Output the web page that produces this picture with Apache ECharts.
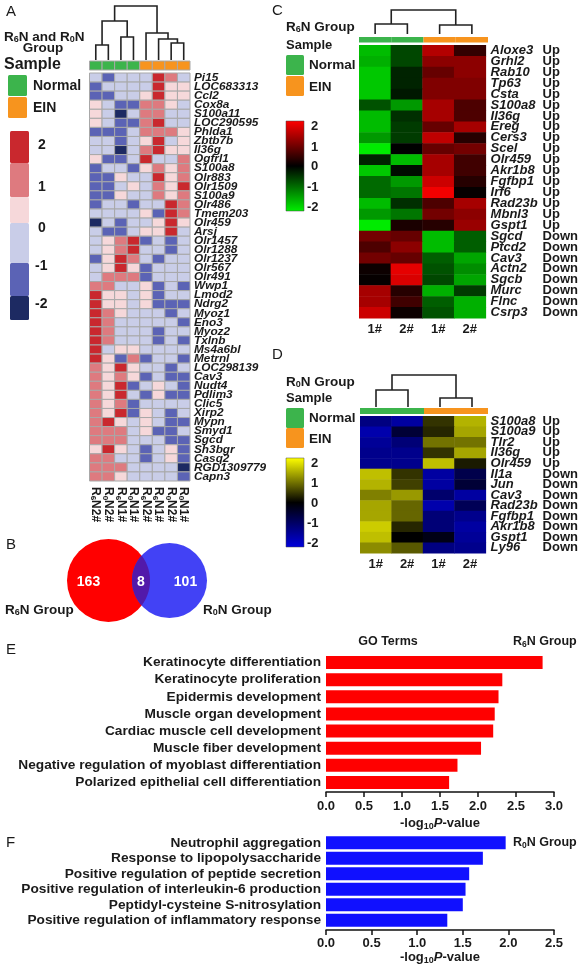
<!DOCTYPE html>
<html><head><meta charset="utf-8">
<style>html,body{margin:0;padding:0;background:#fff}#c{width:581px;height:966px}</style>
<script src="https://cdn.jsdelivr.net/npm/echarts@6/dist/echarts.min.js"></script>
</head><body><div id="c"></div>
<script>
// ---------------- DATA ----------------
// Panel A
const sampleA = ['R6N2#','R0N2#','R6N1#','R0N1#','R6N2#','R6N1#','R0N2#','R0N1#'];
const groupA = ['Normal','Normal','Normal','Normal','EIN','EIN','EIN','EIN'];
const genesA = ['Pi15','LOC683313','Ccl2','Cox8a','S100a11','LOC290595','Phlda1','Zbtb7b','Il36g','Ogfrl1','S100a8','Olr883','Olr1509','S100a9','Olr486','Tmem203','Olr459','Arsj','Olr1457','Olr1288','Olr1237','Olr567','Olr491','Wwp1','Lmod2','Ndrg2','Myoz1','Eno3','Myoz2','Txlnb','Ms4a6bl','Metrnl','LOC298139','Cav3','Nudt4','Pdlim3','Clic5','Xirp2','Mypn','Smyd1','Sgcd','Sh3bgr','Casq2','RGD1309779','Capn3'];
const heatA = [
 [-0.4,-1.2,-0.4,-0.4,-0.4,2,1.2,-0.4],
 [-1.2,-0.4,-0.4,-0.4,-0.4,2,0.4,0.4],
 [-1.2,-1.2,-0.4,-0.4,0.4,2,0.4,0.4],
 [0.4,-0.4,-1.2,-1.2,1.2,1.2,0.4,-0.4],
 [0.4,-0.4,-2,-0.4,1.2,1.2,-0.4,-0.4],
 [0.4,-0.4,-1.2,-1.2,1.2,2,-0.4,-0.4],
 [-1.2,-1.2,-1.2,-0.4,1.2,1.2,1.2,0.4],
 [-0.4,-0.4,-1.2,-0.4,0.4,2,-0.4,0.4],
 [-0.4,-0.4,-2,-0.4,1.2,2,0.4,0.4],
 [0.4,-1.2,-1.2,-0.4,2,-0.4,-0.4,1.2],
 [-1.2,-0.4,-0.4,-1.2,0.4,1.2,0.4,1.2],
 [-1.2,-1.2,0.4,-0.4,-0.4,2,0.4,1.2],
 [-1.2,-1.2,-0.4,0.4,-0.4,1.2,0.4,2],
 [-1.2,-1.2,0.4,-0.4,-0.4,1.2,0.4,1.2],
 [-1.2,-0.4,-0.4,-1.2,-0.4,-0.4,2,1.2],
 [-0.4,-0.4,-0.4,-0.4,0.4,-1.2,2,1.2],
 [-2,-0.4,-1.2,-0.4,-0.4,0.4,2,0.4],
 [-0.4,-1.2,-1.2,-0.4,0.4,0.4,2,-0.4],
 [-0.4,0.4,1.2,2,-1.2,-0.4,-1.2,-0.4],
 [-0.4,0.4,1.2,2,-0.4,-0.4,-1.2,-0.4],
 [-1.2,0.4,2,1.2,-0.4,-1.2,-0.4,-0.4],
 [-0.4,0.4,2,0.4,-1.2,-0.4,-0.4,-0.4],
 [-0.4,1.2,1.2,1.2,-1.2,-0.4,-0.4,-0.4],
 [1.2,1.2,-0.4,-0.4,0.4,-1.2,-0.4,-1.2],
 [2,0.4,0.4,-0.4,0.4,-1.2,-0.4,-0.4],
 [2,0.4,0.4,-0.4,0.4,-1.2,-1.2,-1.2],
 [2,1.2,0.4,-0.4,-0.4,-0.4,-1.2,-0.4],
 [2,1.2,-0.4,-0.4,-0.4,-0.4,-0.4,-1.2],
 [2,1.2,-0.4,-0.4,-0.4,-1.2,-0.4,-0.4],
 [2,1.2,-0.4,-0.4,-0.4,-1.2,-0.4,-1.2],
 [2,-0.4,0.4,0.4,-0.4,-0.4,-0.4,-0.4],
 [2,0.4,-1.2,1.2,-1.2,-0.4,-0.4,-1.2],
 [1.2,0.4,2,0.4,-0.4,-0.4,-1.2,-0.4],
 [1.2,0.4,1.2,0.4,-1.2,-0.4,-1.2,-1.2],
 [1.2,0.4,2,-1.2,-0.4,0.4,-0.4,-1.2],
 [1.2,0.4,2,-0.4,-1.2,0.4,-1.2,-1.2],
 [1.2,0.4,1.2,-1.2,-0.4,-0.4,-0.4,-0.4],
 [1.2,0.4,2,-1.2,0.4,-0.4,-1.2,-0.4],
 [1.2,2,0.4,-0.4,0.4,-0.4,-1.2,-1.2],
 [1.2,1.2,1.2,-0.4,0.4,-1.2,-1.2,-0.4],
 [1.2,1.2,1.2,-0.4,-0.4,-0.4,-1.2,-1.2],
 [0.4,2,0.4,-0.4,-1.2,-0.4,0.4,-1.2],
 [1.2,1.2,-0.4,-0.4,-1.2,-0.4,0.4,-1.2],
 [1.2,1.2,1.2,-0.4,-0.4,-0.4,-0.4,-2],
 [1.2,1.2,0.4,-0.4,-0.4,-0.4,-0.4,-1.2]
];
// dendrogram links: [xLeft, hLeft, xRight, hRight, hMerge]
const dendroA = [[0,0,1,0,15],[2,0,3,0,23],[0.5,15,2.5,23,39],[6,0,7,0,17],[5,0,6.5,17,21],[4,0,5.75,21,27],[1.5,39,4.875,27,54]];
const scaleA = ['2','1','0','-1','-2'];

// Panel B
const vennR6NOnly = 163, vennShared = 8, vennR0NOnly = 101;
const vennNames = ['R6N Group','R0N Group'];

// Panel C
const sampleC = ['1#','2#','1#','2#'];
const groupC = ['Normal','Normal','EIN','EIN'];
const genesC = ['Aloxe3','Grhl2','Rab10','Tp63','Csta','S100a8','Il36g','Ereg','Cers3','Scel','Olr459','Akr1b8','Fgfbp1','Irf6','Rad23b','Mbnl3','Gspt1','Sgcd','Ptcd2','Cav3','Actn2','Sgcb','Murc','Flnc','Csrp3'];
const regC = ['Up','Up','Up','Up','Up','Up','Up','Up','Up','Up','Up','Up','Up','Up','Up','Up','Up','Down','Down','Down','Down','Down','Down','Down','Down'];
const heatC = [
 [-1.6,-0.6,1.4,0.4],[-1.5,-0.6,1.1,1.1],[-1.7,-0.3,0.8,1.1],[-1.7,-0.3,1.0,1.0],[-1.7,-0.2,1.0,1.0],
 [-0.7,-1.3,1.3,0.6],[-1.6,-0.4,1.3,0.6],[-1.6,-0.5,0.8,1.3],[-1.3,-0.5,1.5,0.3],[-2,0,0.8,0.9],
 [-0.3,-1.6,1.3,0.5],[-1.7,-0.1,1.3,0.5],[-0.9,-1.3,1.6,0.3],[-0.9,-1.0,1.9,0.05],[-1.6,-0.4,0.6,1.3],
 [-1.3,-1.0,0.9,1.1],[-2,0.2,0.3,1.2],
 [0.9,0.8,-1.6,-0.8],[0.6,1.1,-1.6,-0.8],[0.9,0.8,-0.8,-1.4],[0.1,1.8,-0.7,-1.2],[0.05,1.7,-0.6,-1.4],
 [1.3,0.3,-1.5,-0.5],[1.3,0.5,-0.8,-1.5],[1.6,0.1,-0.7,-1.5]
];
const dendroC = [[0,0,1,0,10],[2,0,3,0,9],[0.5,10,2.5,9,24]];
const scaleC = ['2','1','0','-1','-2'];

// Panel D
const sampleD = ['1#','2#','1#','2#'];
const groupD = ['Normal','Normal','EIN','EIN'];
const genesD = ['S100a8','S100a9','Tlr2','Il36g','Olr459','Il1a','Jun','Cav3','Rad23b','Fgfbp1','Akr1b8','Gspt1','Ly96'];
const regD = ['Up','Up','Up','Up','Up','Down','Down','Down','Down','Down','Down','Down','Down'];
const heatD = [
 [-1.2,-1.5,0.4,1.4],[-1.6,-0.5,0.3,1.3],[-1.4,-1.1,0.9,0.9],[-1.3,-1.3,0.4,1.3],[-1.3,-1.3,1.5,0.2],
 [1.5,0.4,-1.5,-0.7],[1.4,0.5,-1.5,-0.5],[1.0,1.2,-1.0,-1.5],[1.3,0.8,-1.6,-0.8],[1.3,0.8,-1.1,-1.3],
 [1.6,0.3,-1.1,-1.5],[1.5,0.0,-0.2,-1.4],[1.1,0.7,-1.2,-1.3]
];
const dendroD = [[0,0,1,0,17],[2,0,3,0,9],[0.5,17,2.5,9,32]];
const scaleD = ['2','1','0','-1','-2'];

// Panel E / F
const termsE = ['Keratinocyte differentiation','Keratinocyte proliferation','Epidermis development','Muscle organ development','Cardiac muscle cell development','Muscle fiber development','Negative regulation of myoblast differentiation','Polarized epithelial cell differentiation'];
const valuesE = [2.85,2.32,2.27,2.22,2.20,2.04,1.73,1.62];
const termsF = ['Neutrophil aggregation','Response to lipopolysaccharide','Positive regulation of peptide secretion','Positive regulation of interleukin-6 production','Peptidyl-cysteine S-nitrosylation','Positive regulation of inflammatory response'];
const valuesF = [1.97,1.72,1.57,1.53,1.50,1.33];

// ---------------- STYLE ----------------
const FONT = "'Liberation Sans', Arial, Helvetica, sans-serif";
const TXT = '#1a1a1a';
const GREEN = '#3cb44c', ORANGE = '#f7941e';
function colA(v){
  if (v <= -1.6) return '#1d2a62';
  if (v <= -0.8) return '#5b63b5';
  if (v < 0) return '#c9cde8';
  if (v < 0.8) return '#f6d8da';
  if (v < 1.6) return '#de7a7f';
  return '#c9282e';
}
function rgb(r,g,b){return 'rgb('+Math.round(r)+','+Math.round(g)+','+Math.round(b)+')';}
function colC(v){const t=Math.min(Math.abs(v)/2,1);return v>=0?rgb(255*t,0,0):rgb(0,235*t,0);}
function colD(v){const t=Math.min(Math.abs(v)/2,1);return v>=0?rgb(255*t,255*t,0):rgb(0,0,215*t);}

function richStr(str, m, s){
  let out='', buf='';
  for (let i=0;i<str.length;i++){
    const c=str[i];
    if (/\d/.test(c) && str[i-1]==='R'){ if(buf) out+='{'+m+'|'+buf+'}'; buf=''; out+='{'+s+'|'+c+'}'; }
    else buf+=c;
  }
  if (buf) out+='{'+m+'|'+buf+'}';
  return out;
}

const grids=[], xAxes=[], yAxes=[], series=[];
function addGrid(g){grids.push(Object.assign({containLabel:false},g));return grids.length-1;}

function dendro(gridRect, n, hMax, links){
  const gi = addGrid(gridRect);
  xAxes.push({gridIndex:gi,type:'value',min:-0.5,max:n-0.5,show:false});
  yAxes.push({gridIndex:gi,type:'value',min:0,max:hMax,show:false});
  series.push({type:'custom',xAxisIndex:xAxes.length-1,yAxisIndex:yAxes.length-1,data:links,silent:true,
    renderItem:(p,api)=>{
      const x1=api.value(0),h1=api.value(1),x2=api.value(2),h2=api.value(3),hm=api.value(4);
      return {type:'polyline',shape:{points:[api.coord([x1,h1]),api.coord([x1,hm]),api.coord([x2,hm]),api.coord([x2,h2])]},
        style:{stroke:'#222',lineWidth:1.6,fill:null}};
    }});
}
function strip(gridRect, groups, bordered){
  const gi = addGrid(gridRect);
  xAxes.push({gridIndex:gi,type:'category',data:groups.map((g,i)=>i),show:false});
  yAxes.push({gridIndex:gi,type:'category',data:['g'],show:false});
  series.push({type:'custom',xAxisIndex:xAxes.length-1,yAxisIndex:yAxes.length-1,silent:true,
    data:groups.map((g,i)=>[i,0,g==='Normal'?0:1]),
    renderItem:(p,api)=>{
      const c=api.coord([api.value(0),0]), s=api.size([1,1]);
      return {type:'rect',shape:{x:c[0]-s[0]/2,y:c[1]-s[1]/2,width:s[0],height:s[1]},
        style:{fill:api.value(2)===0?GREEN:ORANGE,stroke:bordered?'#a8a8a8':null,lineWidth:bordered?1:0}};
    }});
}
const axisRich = {
  m:{fontFamily:FONT,fontSize:12,fontWeight:'bold',color:TXT},
  s:{fontFamily:FONT,fontSize:8,fontWeight:'bold',color:TXT,padding:[6,0,0,0]}
};

// ---------- Panel A ----------
dendro({left:89.5,top:6,width:100.5,height:54},8,54,dendroA);
strip({left:89.5,top:61,width:100.5,height:9},groupA,true);
{
  const gi=addGrid({left:89.5,top:73,width:100.5,height:408});
  xAxes.push({gridIndex:gi,type:'category',data:sampleA,position:'bottom',
    axisLine:{show:false},axisTick:{show:false},
    axisLabel:{interval:0,rotate:-90,margin:6,formatter:v=>richStr(v,'m','s'),rich:axisRich}});
  yAxes.push({gridIndex:gi,type:'category',data:genesA,inverse:true,position:'right',
    axisLine:{show:false},axisTick:{show:false},
    axisLabel:{interval:0,margin:4,fontFamily:FONT,fontSize:11.8,fontWeight:'bold',fontStyle:'italic',color:TXT,lineHeight:11}});
  series.push({type:'custom',xAxisIndex:xAxes.length-1,yAxisIndex:yAxes.length-1,silent:true,
    data:heatA.flatMap((row,r)=>row.map((v,c)=>[c,r,v])),
    renderItem:(p,api)=>{
      const c=api.coord([api.value(0),api.value(1)]), s=api.size([1,1]);
      return {type:'rect',shape:{x:c[0]-s[0]/2,y:c[1]-s[1]/2,width:s[0],height:s[1]},
        style:{fill:colA(api.value(2)),stroke:'#a8a8a8',lineWidth:1}};
    }});
}

// ---------- Panel C / D heatmaps ----------
function bigHeat(rect, samples, genes, reg, data, colFn){
  const gi=addGrid(rect);
  xAxes.push({gridIndex:gi,type:'category',data:samples,position:'bottom',
    axisLine:{show:false},axisTick:{show:false},
    axisLabel:{interval:0,margin:5,fontFamily:FONT,fontSize:13,fontWeight:'bold',color:TXT}});
  const xi=xAxes.length-1;
  yAxes.push({gridIndex:gi,type:'category',data:genes,inverse:true,position:'right',
    axisLine:{show:false},axisTick:{show:false},
    axisLabel:{interval:0,margin:5,fontFamily:FONT,fontSize:13,fontWeight:'bold',fontStyle:'italic',color:TXT,lineHeight:12}});
  const yi=yAxes.length-1;
  yAxes.push({gridIndex:gi,type:'category',data:genes.map((g,i)=>i),inverse:true,position:'right',offset:52,
    axisLine:{show:false},axisTick:{show:false},
    axisLabel:{interval:0,margin:5,formatter:(v,i)=>reg[i],fontFamily:FONT,fontSize:13,fontWeight:'bold',color:TXT,lineHeight:12}});
  series.push({type:'custom',xAxisIndex:xi,yAxisIndex:yi,silent:true,
    data:data.flatMap((row,r)=>row.map((v,c)=>[c,r,v])),
    renderItem:(p,api)=>{
      const c=api.coord([api.value(0),api.value(1)]), s=api.size([1,1]);
      return {type:'rect',shape:{x:c[0]-s[0]/2,y:c[1]-s[1]/2,width:s[0]+0.5,height:s[1]+0.5},
        style:{fill:colFn(api.value(2))}};
    }});
}
dendro({left:359,top:10,width:129,height:24},4,24,dendroC);
strip({left:359,top:37,width:129,height:5.5},groupC,false);
bigHeat({left:359,top:45,width:129,height:273},sampleC,genesC,regC,heatC,colC);

dendro({left:360,top:375,width:128,height:32},4,32,dendroD);
strip({left:360,top:408,width:128,height:6},groupD,false);
bigHeat({left:360,top:416,width:128,height:137},sampleD,genesD,regD,heatD,colD);

// ---------- Panel B: Venn ----------
{
  const gi=addGrid({left:0,top:530,width:290,height:100});
  xAxes.push({gridIndex:gi,type:'value',min:0,max:290,show:false});
  yAxes.push({gridIndex:gi,type:'value',min:0,max:100,show:false,inverse:true});
  series.push({type:'custom',xAxisIndex:xAxes.length-1,yAxisIndex:yAxes.length-1,silent:true,
    data:[[vennR6NOnly,vennShared,vennR0NOnly]],
    renderItem:(p,api)=>{
      const c1=api.coord([108.5,50.5]), c2=api.coord([169.5,50.5]);
      const r1=41.5, r2=37.5, d=c2[0]-c1[0];
      const a=(d*d+r1*r1-r2*r2)/(2*d), h=Math.sqrt(r1*r1-a*a);
      const pts=[];
      const tb1=Math.atan2(h,a-d), tb2=Math.atan2(-h,a-d)+2*Math.PI;
      for(let i=0;i<=40;i++){const t=tb1+(tb2-tb1)*i/40;pts.push([c2[0]+r2*Math.cos(t),c1[1]+r2*Math.sin(t)]);}
      const tr1=Math.atan2(-h,a), tr2=Math.atan2(h,a);
      for(let i=0;i<=40;i++){const t=tr1+(tr2-tr1)*i/40;pts.push([c1[0]+r1*Math.cos(t),c1[1]+r1*Math.sin(t)]);}
      const tf={fontFamily:FONT,fontSize:14,fontWeight:'bold',fill:'#fff',align:'center',verticalAlign:'middle'};
      return {type:'group',children:[
        {type:'circle',shape:{cx:c1[0],cy:c1[1],r:r1},style:{fill:'#ff0000'}},
        {type:'circle',shape:{cx:c2[0],cy:c2[1],r:r2},style:{fill:'#4242f5'}},
        {type:'polygon',shape:{points:pts},style:{fill:'#5219aa'}},
        {type:'text',x:c1[0]-20,y:c1[1]+2,style:Object.assign({text:String(api.value(0))},tf)},
        {type:'text',x:(c1[0]+r1+c2[0]-r2)/2,y:c1[1]+2,style:Object.assign({text:String(api.value(1))},tf)},
        {type:'text',x:c2[0]+16,y:c1[1]+2,style:Object.assign({text:String(api.value(2))},tf)}
      ]};
    }});
}

// ---------- Panels E / F ----------
function barPanel(rect, terms, values, max, color, axOffset, lblMargin, nGap){
  const gi=addGrid(rect);
  xAxes.push({gridIndex:gi,type:'value',min:0,max:max,interval:0.5,offset:axOffset,
    axisLine:{show:true,lineStyle:{color:'#111',width:1.5}},
    axisTick:{show:true,length:5,lineStyle:{color:'#111',width:1.5}},
    splitLine:{show:false},
    axisLabel:{margin:lblMargin,fontFamily:FONT,fontSize:13,fontWeight:'bold',color:TXT,formatter:v=>v.toFixed(1)},
    name:'{m|-log}{s|10}{i|P}{m|-value}',nameLocation:'middle',nameGap:nGap,
    nameTextStyle:{rich:{
      m:{fontFamily:FONT,fontSize:13,fontWeight:'bold',color:TXT},
      i:{fontFamily:FONT,fontSize:13,fontWeight:'bold',fontStyle:'italic',color:TXT},
      s:{fontFamily:FONT,fontSize:9,fontWeight:'bold',color:TXT,padding:[6,0,0,0]}}}});
  yAxes.push({gridIndex:gi,type:'category',data:terms,inverse:true,
    axisLine:{show:false},axisTick:{show:false},
    axisLabel:{interval:0,margin:5,fontFamily:FONT,fontSize:13.7,fontWeight:'bold',color:TXT}});
  series.push({type:'bar',xAxisIndex:xAxes.length-1,yAxisIndex:yAxes.length-1,data:values,
    barWidth:13,itemStyle:{color:color},silent:true});
}
barPanel({left:326,top:654,width:228,height:137},termsE,valuesE,3,'#ff0000',1,8,24);
barPanel({left:326,top:835,width:228,height:101},termsF,valuesF,2.5,'#1010ff',2,7,19);

// ---------- graphic (legends, panel letters) ----------
const G=[];
function txt(x,y,text,opt){G.push({type:'text',x:x,y:y,silent:true,style:Object.assign({text:text,fontFamily:FONT,fontSize:13,fontWeight:'bold',fill:TXT,verticalAlign:'middle'},opt||{})});}
function rect(x,y,w,h,fill){G.push({type:'rect',silent:true,shape:{x:x,y:y,width:w,height:h,r:1.5},style:{fill:fill}});}
const gRich={m:{fontFamily:FONT,fontSize:13.5,fontWeight:'bold',fill:TXT},s:{fontFamily:FONT,fontSize:9,fontWeight:'bold',fill:TXT,padding:[6,0,0,0]}};
function rtxt(x,y,text,opt){txt(x,y,richStr(text,'m','s'),Object.assign({rich:gRich},opt||{}));}

// panel letters
[['A',6,12],['B',6,545],['C',272,11],['D',272,355],['E',6,650],['F',6,843]].forEach(l=>txt(l[1],l[2],l[0],{fontWeight:'normal',fontSize:15}));

// A legend
rtxt(4,37,'R6N and R0N');
txt(43,48,'Group',{align:'center',fontSize:13.5});
txt(4,65,'Sample',{fontSize:16});
rect(8,75,19,21,GREEN); txt(33,86,'Normal',{fontSize:14});
rect(8,97,19,21,ORANGE); txt(33,108,'EIN',{fontSize:14});
[['#c9282e',131,32],['#de7a7f',163,34],['#f6d8da',197,26],['#c9cde8',223,40],['#5b63b5',263,33],['#1d2a62',296,24]].forEach(b=>rect(10,b[1],19,b[2],b[0]));
[145,187,228,266,304].forEach((y,i)=>txt(i<3?38:35,y,scaleA[i],{fontSize:14}));

// C legend
rtxt(286,27,'R6N Group');
txt(286,45,'Sample');
rect(286,55,18,20,GREEN); txt(309,65,'Normal',{fontSize:13.5});
rect(286,76,18,20,ORANGE); txt(309,87,'EIN',{fontSize:13.5});
G.push({type:'rect',silent:true,shape:{x:286,y:121,width:18,height:90},style:{stroke:'#444',lineWidth:0.5,fill:{type:'linear',x:0,y:0,x2:0,y2:1,colorStops:[{offset:0,color:'#ff0000'},{offset:0.5,color:'#000'},{offset:1,color:'#00ee00'}]}}});
[126,147,166,187,207].forEach((y,i)=>txt(i<3?311:307,y,scaleC[i],{fontSize:13}));

// D legend
rtxt(286,382,'R0N Group');
txt(286,398,'Sample');
rect(286,408,18,20,GREEN); txt(309,418,'Normal',{fontSize:13.5});
rect(286,428,18,20,ORANGE); txt(309,439,'EIN',{fontSize:13.5});
G.push({type:'rect',silent:true,shape:{x:286,y:458,width:18,height:89},style:{stroke:'#444',lineWidth:0.5,fill:{type:'linear',x:0,y:0,x2:0,y2:1,colorStops:[{offset:0,color:'#ffff00'},{offset:0.5,color:'#000'},{offset:1,color:'#0000dd'}]}}});
[463,483,503,523,543].forEach((y,i)=>txt(i<3?311:307,y,scaleD[i],{fontSize:13}));

// B labels
rtxt(5,610,vennNames[0]);
rtxt(203,610,vennNames[1]);

// E / F headers
const hRich={m:{fontFamily:FONT,fontSize:12.5,fontWeight:'bold',fill:TXT},s:{fontFamily:FONT,fontSize:8.5,fontWeight:'bold',fill:TXT,padding:[6,0,0,0]}};
txt(388,642,'GO Terms',{align:'center',fontSize:12.5});
rtxt(513,642,'R6N Group',{rich:hRich});
rtxt(513,843,'R0N Group',{rich:hRich});

const chart=echarts.init(document.getElementById('c'),null,{renderer:'canvas'});
chart.setOption({animation:false,backgroundColor:'#fff',grid:grids,xAxis:xAxes,yAxis:yAxes,series:series,graphic:G});
</script></body></html>
